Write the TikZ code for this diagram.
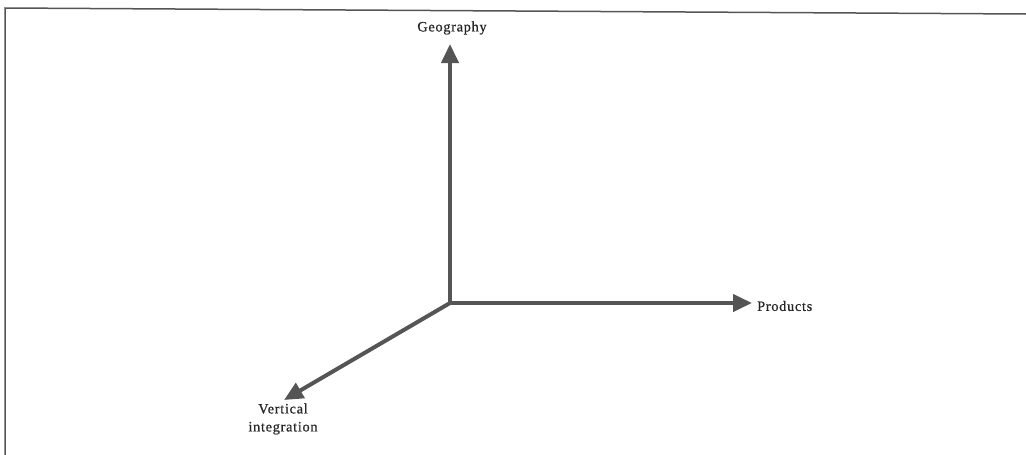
\documentclass[tikz,border=0pt]{standalone}
\usepackage{fontspec}
\setmainfont{Liberation Serif}
\usetikzlibrary{arrows.meta}
\definecolor{axis}{HTML}{555555}
\definecolor{frame}{HTML}{555555}
\begin{document}
\begin{tikzpicture}[x={(1pt,0)},y={(0,-1pt)},
  axisline/.style={draw=axis,line width=4pt,-{Triangle[length=19pt,width=17pt]}},
  lbl/.style={font=\fontsize{14.3}{18}\selectfont\addfontfeature{LetterSpace=5,FakeBold=0.6}, text=black!85, inner sep=0pt, align=center}]
\useasboundingbox (0,0) rectangle (1026,455);
\draw[frame,line width=1.5pt] (5,455) -- (5,8) -- (1026,14);
\coordinate (O) at (450,303);
\coordinate (G) at (450,44);
\coordinate (P) at (752,303);
\coordinate (V) at (284,400);
\draw[axisline] (O) -- (G);
\draw[axisline] (O) -- (P);
\draw[axisline] (O) -- (V);
\node[lbl] (gl) at (452,28) {Geography};
\node[lbl,anchor=west] (pl) at (757,306) {Products};
\node[lbl] (vl) at (283,419) {Vertical\\integration};
\end{tikzpicture}
\end{document}
